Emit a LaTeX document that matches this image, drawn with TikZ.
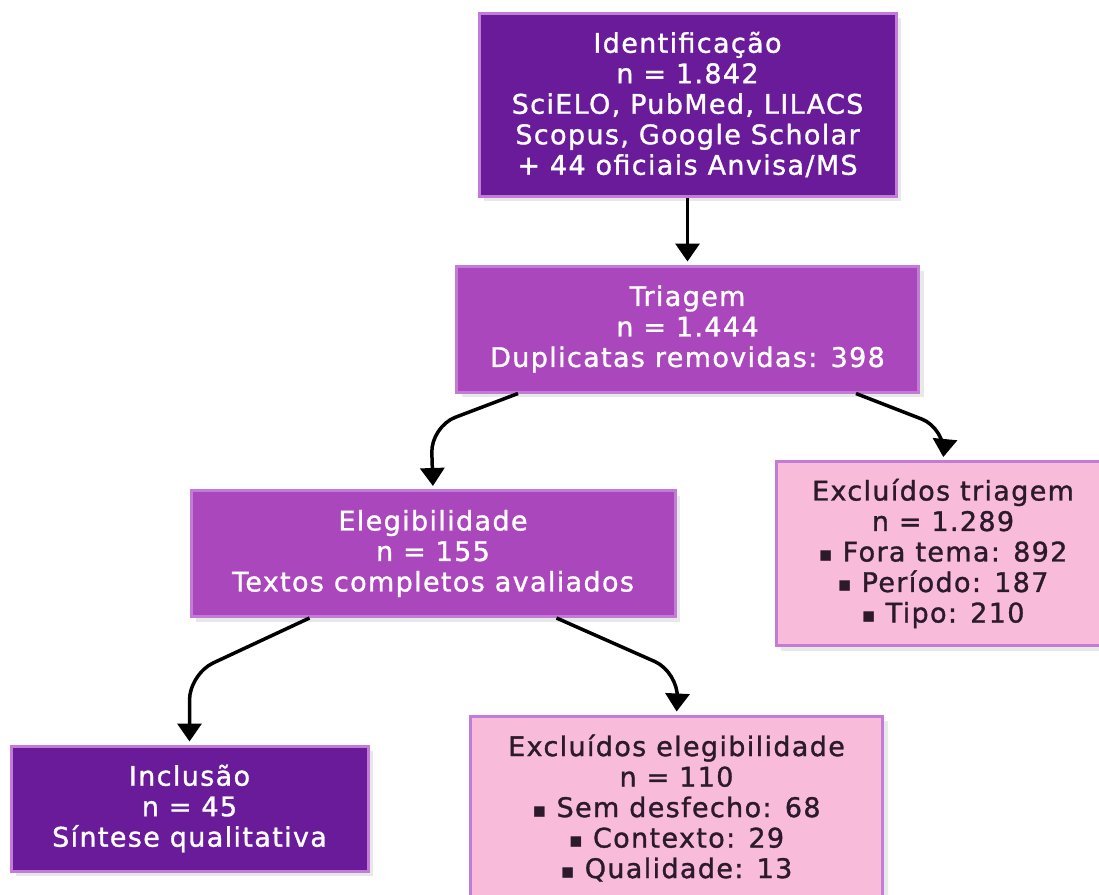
\documentclass[tikz,border=0pt]{standalone}
\usepackage{fontspec}
\setmainfont{DejaVu Sans}[LetterSpace=5,FakeBold=1.2]
\newfontfamily\symfont{DejaVu Sans}
\usetikzlibrary{arrows.meta,positioning,shadows}
\definecolor{deeppurple}{HTML}{6A1B9A}
\definecolor{midpurple}{HTML}{AB47BC}
\definecolor{softpink}{HTML}{F8BBD9}
\definecolor{edgepurple}{HTML}{C27BD6}
\definecolor{inktext}{HTML}{2B1A2B}
\newcommand{\bul}{{\fontsize{21}{21}\symfont ▪}\ }

\begin{document}
\begin{tikzpicture}[x=1pt,y=-1pt,font=\fontsize{27}{30.5}\selectfont,
  box/.style={draw=edgepurple,line width=3pt,align=center,inner sep=0pt,
              drop shadow={shadow xshift=5pt,shadow yshift=-5pt,fill=black!9,opacity=1}},
  stage/.style={box,fill=deeppurple,text=white},
  sub/.style={box,fill=midpurple,text=white},
  excl/.style={box,fill=softpink,text=inktext},
  flow/.style={-{Triangle[width=24pt,length=18pt]},line width=3.5pt,rounded corners=26pt,shorten >=3pt}]
\useasboundingbox (0,0) rectangle (1099,894);
\clip (0,0) rectangle (1099,894);
\node[stage,minimum width=417pt,minimum height=183pt] (ident) at (687.5,104.5)
  {Identificação\\n = 1.842\\SciELO, PubMed, LILACS\\Scopus, Google Scholar\\+ 44 oficiais Anvisa/MS};
\node[sub,minimum width=462pt,minimum height=126pt] (tri) at (687.5,329)
  {Triagem\\n = 1.444\\Duplicatas removidas: 398};
\node[sub,minimum width=484pt,minimum height=126pt] (eleg) at (433,553.5)
  {Elegibilidade\\n = 155\\Textos completos avaliados};
\node[excl,minimum width=334pt,minimum height=184pt] (extri) at (943,553.5)
  {Excluídos triagem\\n = 1.289\\\bul Fora tema: 892\\\bul Período: 187\\\bul Tipo: 210};
\node[stage,minimum width=357pt,minimum height=125pt] (incl) at (189.5,808.5)
  {Inclusão\\n = 45\\Síntese qualitativa};
\node[excl,minimum width=412pt,minimum height=184pt] (exeleg) at (676.5,808)
  {Excluídos elegibilidade\\n = 110\\\bul Sem desfecho: 68\\\bul Contexto: 29\\\bul Qualidade: 13};
\draw[flow] (ident) -- (tri);
\draw[flow] ([xshift=63pt]tri.south west) -- ++(-87,33) -- (eleg.north);
\draw[flow] ([xshift=-64pt]tri.south east) -- ++(90,35) -- (extri.north);
\draw[flow] ([xshift=120pt]eleg.south west) -- ++(-120,56) -- (incl.north);
\draw[flow] ([xshift=-120pt]eleg.south east) -- ++(122,54) -- (exeleg.north);
\end{tikzpicture}
\end{document}
